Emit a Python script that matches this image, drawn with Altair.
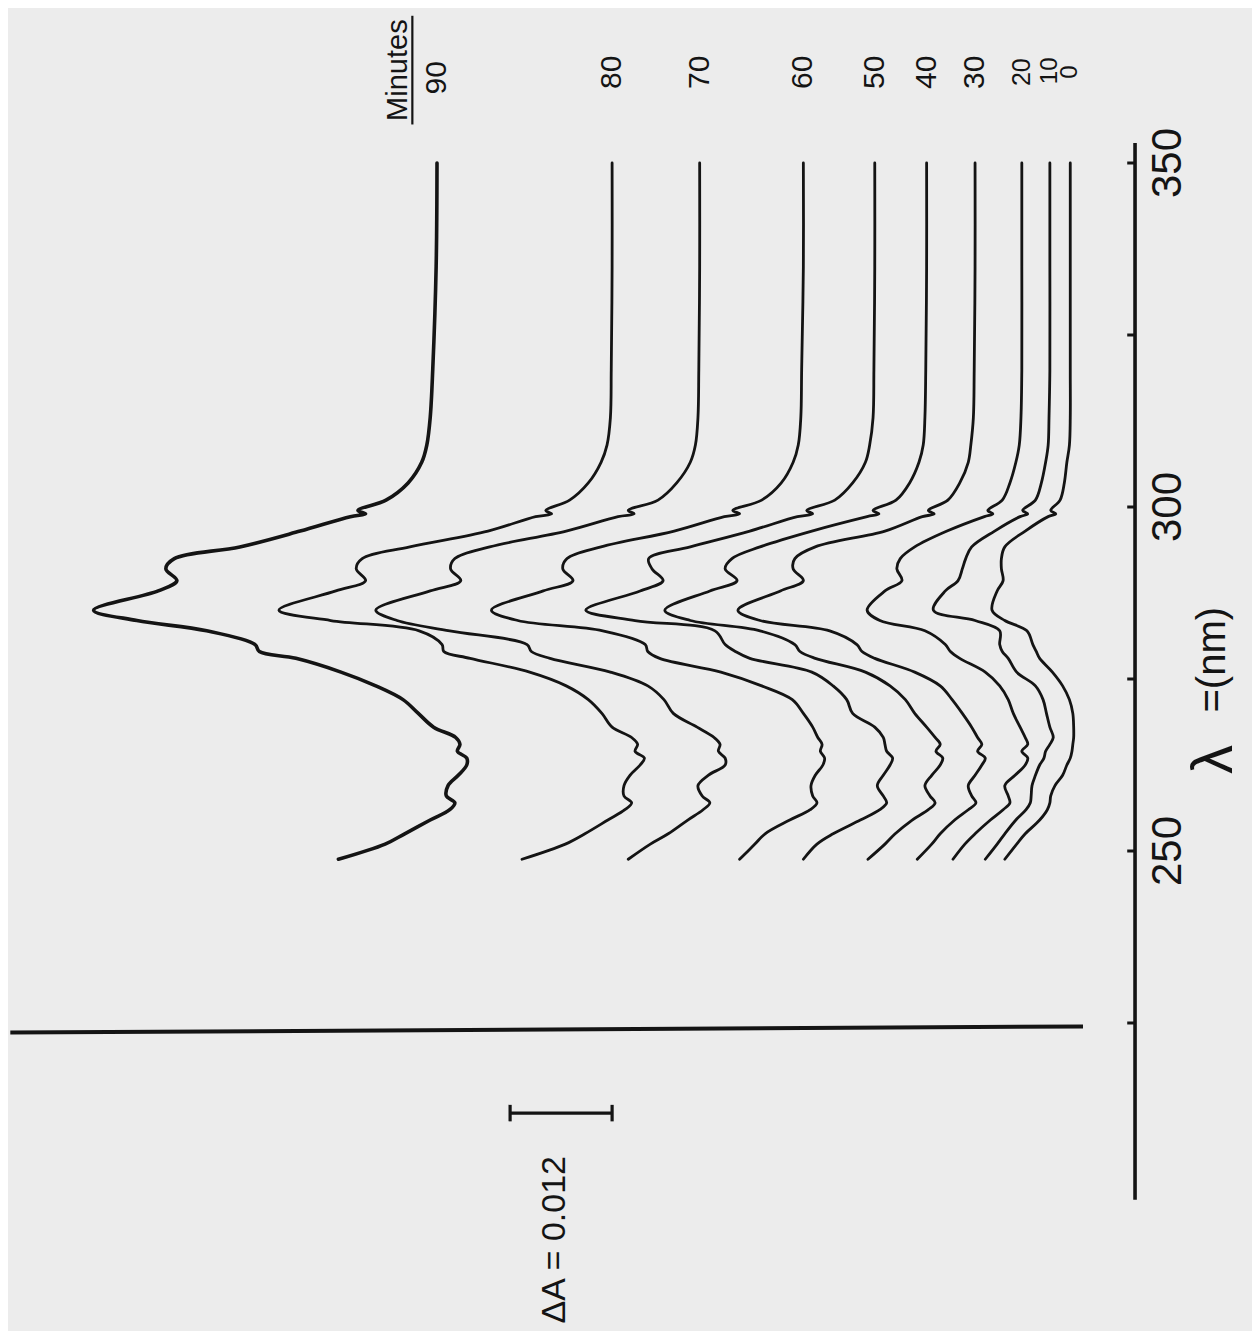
import altair as alt
import pandas as pd

# ---------------- data ----------------
# wavelength grid, nm (350 nm at the top of the rotated figure)
WAVELENGTH_NM = [350, 335, 320, 313, 309, 306.5, 303.5, 301, 299.5, 299.0, 298.6, 296.5, 294.2, 292.5,
                 291.0, 289.3, 287.8, 285, 283.5, 282, 280, 279, 278, 276, 274, 272, 270, 268,
                 266.5, 265.5, 264.5, 263.5, 262.5, 261, 259.5, 258, 257, 256, 254.5, 252.5, 251, 248.8]

MINUTES = [90, 80, 70, 60, 50, 40, 30, 20, 10, 0]

# absorbance (units of 0.001 A), offset traces
DA_90 = [76.0, 76.1, 76.5, 76.8, 77.2, 77.8, 79.4, 82.0, 85.3, 84.4, 86.2, 92.1, 99.2, 106.9,
         107.9, 106.6, 108.8, 116.4, 111.3, 103.1, 97.4, 96.9, 92.6, 87.3, 83.2, 80.0, 78.2, 76.4,
         73.8, 73.3, 73.6, 72.5, 72.5, 73.5, 74.7, 74.9, 73.9, 74.5, 76.8, 79.8, 82.1, 87.6]
DA_80 = [55.4, 55.4, 55.5, 55.6, 56.0, 56.7, 58.2, 60.4, 63.2, 62.5, 64.4, 70.0, 79.2, 84.8,
         85.5, 84.4, 87.9, 94.6, 88.5, 78.1, 75.4, 75.2, 72.1, 65.1, 60.8, 58.2, 56.6, 55.4,
         53.1, 52.4, 52.7, 51.6, 52.1, 53.3, 54.0, 54.0, 53.1, 53.9, 55.9, 58.6, 60.9, 66.0]
DA_70 = [45.1, 45.1, 45.2, 45.3, 45.6, 46.2, 47.8, 50.0, 53.5, 52.8, 54.7, 60.8, 69.8, 73.9,
         74.4, 73.2, 76.8, 83.2, 80.7, 74.5, 65.4, 64.9, 62.7, 55.6, 51.2, 49.3, 48.2, 45.4,
         43.4, 42.7, 42.9, 42.1, 42.1, 44.1, 45.3, 44.8, 43.9, 44.7, 46.5, 48.8, 50.9, 53.5]
DA_60 = [32.9, 32.9, 33.1, 33.2, 33.5, 34.1, 35.5, 37.8, 41.2, 40.4, 42.2, 48.1, 56.7, 60.7,
         61.2, 60.0, 63.5, 69.6, 66.5, 56.5, 51.5, 51.2, 49.8, 42.6, 37.8, 34.2, 32.9, 31.8,
         31.2, 30.7, 30.9, 30.4, 30.6, 31.5, 32.0, 31.8, 31.3, 32.1, 34.5, 37.4, 38.6, 40.4]
DA_50 = [24.5, 24.5, 24.6, 24.7, 25.1, 25.6, 27.1, 29.2, 32.5, 31.8, 33.6, 39.2, 46.2, 51.1,
         50.7, 49.4, 52.1, 58.5, 52.7, 43.3, 42.1, 40.9, 39.2, 31.9, 29.4, 27.8, 27.1, 24.5,
         23.5, 23.3, 23.1, 22.4, 22.7, 23.5, 24.2, 23.5, 23.1, 23.9, 26.2, 29.4, 31.3, 32.9]
DA_40 = [18.4, 18.4, 18.5, 18.6, 18.8, 19.3, 20.4, 22.0, 24.7, 24.0, 25.4, 31.9, 38.0, 41.3,
         42.1, 40.7, 43.9, 49.2, 46.2, 38.0, 33.9, 33.3, 31.5, 25.6, 22.7, 20.9, 19.8, 18.4,
         17.4, 16.8, 17.3, 16.5, 16.8, 17.8, 18.6, 18.0, 17.4, 18.2, 20.1, 22.1, 23.3, 25.3]
DA_30 = [12.7, 12.7, 12.8, 12.9, 13.2, 13.5, 14.5, 15.9, 18.2, 17.5, 18.9, 23.3, 31.5, 33.9,
         34.1, 32.9, 35.6, 40.6, 38.0, 29.8, 26.6, 26.0, 24.5, 19.8, 16.8, 15.4, 14.2, 13.1,
         12.4, 11.9, 12.4, 11.5, 11.9, 12.7, 13.5, 13.1, 12.6, 13.5, 15.1, 16.8, 17.8, 19.5]
DA_20 = [7.2, 7.2, 7.2, 7.3, 7.5, 7.9, 8.6, 9.5, 11.2, 10.6, 11.6, 16.0, 19.8, 21.5,
         21.9, 21.3, 23.3, 25.4, 23.9, 18.6, 16.2, 15.6, 14.5, 11.5, 9.8, 8.8, 8.2, 7.4,
         6.8, 6.5, 7.2, 6.5, 6.8, 8.0, 9.2, 8.8, 8.6, 9.4, 10.9, 12.7, 13.9, 15.3]
DA_10 = [3.9, 3.9, 3.9, 4.0, 4.1, 4.4, 4.9, 5.6, 7.1, 6.5, 7.4, 10.4, 13.1, 13.8,
         14.2, 14.7, 16.2, 17.6, 12.7, 9.8, 9.8, 9.5, 8.8, 7.8, 5.6, 4.7, 4.3, 3.9,
         3.5, 3.9, 4.4, 4.6, 5.1, 5.6, 6.0, 6.1, 6.2, 6.7, 7.9, 9.2, 10.1, 11.5]
DA_0 = [1.5, 1.5, 1.5, 1.5, 1.6, 1.9, 2.2, 2.7, 3.8, 3.2, 4.1, 6.8, 9.2, 9.6,
        9.6, 9.4, 10.1, 10.7, 9.2, 6.6, 5.9, 5.5, 5.1, 3.6, 2.4, 1.6, 1.2, 1.1,
        1.1, 1.2, 1.3, 1.5, 1.9, 2.4, 3.3, 3.8, 3.9, 4.2, 5.1, 6.8, 7.8, 9.2]

SERIES = [DA_90, DA_80, DA_70, DA_60, DA_50, DA_40, DA_30, DA_20, DA_10, DA_0]
LABEL_WL = [362.4, 363.2, 363.2, 363.2, 363.2, 363.2, 363.2, 363.2, 363.4, 363.2]
LABEL_SIZE = [30, 30, 30, 30, 30, 30, 30, 25, 24, 24]

AXIS_TICKS_NM = [350, 325, 300, 275, 250, 225]
AXIS_LABELS_NM = [350, 300, 250]
SCALE_BAR_DA = 12.0  # 0.012 A

INK = "#141414"
FONT = "Liberation Sans"

# ---------------- tables ----------------
rows = []
for m, vals in zip(MINUTES, SERIES):
    for i, (wl, a) in enumerate(zip(WAVELENGTH_NM, vals)):
        rows.append({"minutes": m, "idx": i, "wl": wl, "dA": a})
df = pd.DataFrame(rows)

lab_df = pd.DataFrame({"minutes": [str(m) for m in MINUTES],
                       "dA": [s[0] for s in SERIES],
                       "wl": LABEL_WL, "s": LABEL_SIZE})

X_SCALE = alt.Scale(domain=[-19.88, 126.47], reverse=True, nice=False, zero=False)
Y_SCALE = alt.Scale(domain=[180.23, 372.53], nice=False, zero=False)


def X(f):
    return alt.X(f, type="quantitative", scale=X_SCALE, axis=None)


def Y(f):
    return alt.Y(f, type="quantitative", scale=Y_SCALE, axis=None)


curves = alt.Chart(df).mark_line(
    interpolate="catmull-rom", color=INK, strokeJoin="round", strokeCap="round"
).encode(
    x=X("dA"), y=Y("wl"), detail="minutes:N", order="idx:Q",
    strokeWidth=alt.when(alt.datum.minutes == 90).then(alt.value(3.6)).otherwise(alt.value(2.8)),
)

# wavelength axis (drawn on the right)
axis_line = alt.Chart(pd.DataFrame({"a": [-6.12], "w1": [199.3], "w2": [352.9]})).mark_rule(
    color=INK, strokeWidth=3.6).encode(x=X("a"), y=Y("w1"), y2="w2")
ticks = alt.Chart(pd.DataFrame({"w": AXIS_TICKS_NM, "a1": [-6.12] * len(AXIS_TICKS_NM),
                                "a2": [-5.2] * len(AXIS_TICKS_NM)})).mark_rule(
    color=INK, strokeWidth=3).encode(x=X("a1"), x2="a2", y=Y("w"))
tick_labels = alt.Chart(pd.DataFrame({"w": AXIS_LABELS_NM, "a": [-10.0] * len(AXIS_LABELS_NM),
                                      "t": [str(v) for v in AXIS_LABELS_NM]})).mark_text(
    angle=270, fontSize=42, font=FONT, color=INK, align="center", baseline="middle"
).encode(x=X("a"), y=Y("w"), text="t:N")

lam = alt.Chart(pd.DataFrame({"a": [-15.5, -15.3], "w": [263.3, 277.8],
                              "t": ["λ", "=(nm)"], "s": [58, 40]})).mark_text(
    angle=270, font=FONT, color=INK, align="center", baseline="middle"
).encode(x=X("a"), y=Y("w"), text="t:N", size=alt.Size("s:Q", scale=None, legend=None))

# absorbance axis line
abs_axis = alt.Chart(pd.DataFrame({"a1": [126.2], "a2": [0.0], "w1": [223.6], "w2": [224.5]})).mark_rule(
    color=INK, strokeWidth=4).encode(x=X("a1"), x2="a2", y=Y("w1"), y2="w2")

# scale bar
bar = alt.Chart(pd.DataFrame({"a1": [55.4], "a2": [55.4 + SCALE_BAR_DA], "w": [211.9]})).mark_rule(
    color=INK, strokeWidth=3.2).encode(x=X("a1"), x2="a2", y=Y("w"))
caps = alt.Chart(pd.DataFrame({"a": [55.4, 55.4 + SCALE_BAR_DA], "w1": [210.7, 210.7],
                               "w2": [213.1, 213.1]})).mark_rule(
    color=INK, strokeWidth=3.2).encode(x=X("a"), y=Y("w1"), y2="w2")
bar_text = alt.Chart(pd.DataFrame({"a": [62.1], "w": [193.5], "t": ["ΔA = 0.012"]})).mark_text(
    angle=270, fontSize=34, font=FONT, color=INK, align="center", baseline="middle"
).encode(x=X("a"), y=Y("w"), text="t:N")

# minutes legend
min_title = alt.Chart(pd.DataFrame({"a": [80.6], "w": [363.5], "t": ["Minutes"]})).mark_text(
    angle=270, fontSize=29, font=FONT, color=INK, align="center", baseline="middle"
).encode(x=X("a"), y=Y("w"), text="t:N")
min_line = alt.Chart(pd.DataFrame({"a": [78.9], "w1": [355.6], "w2": [371.4]})).mark_rule(
    color=INK, strokeWidth=2.2).encode(x=X("a"), y=Y("w1"), y2="w2")
min_labels = alt.Chart(lab_df).mark_text(
    angle=270, font=FONT, color=INK, align="center", baseline="middle"
).encode(x=X("dA"), y=Y("wl"), text="minutes:N",
         size=alt.Size("s:Q", scale=None, legend=None))

chart = alt.layer(
    curves, axis_line, ticks, tick_labels, lam, abs_axis, bar, caps, bar_text,
    min_title, min_line, min_labels
).properties(
    width=1244, height=1323, padding=0,
    autosize=alt.AutoSizeParams(type="none"),
).configure(background="#ececec").configure_view(strokeWidth=0)

chart.save("out.html", embed_options={"renderer": "svg", "actions": False})
